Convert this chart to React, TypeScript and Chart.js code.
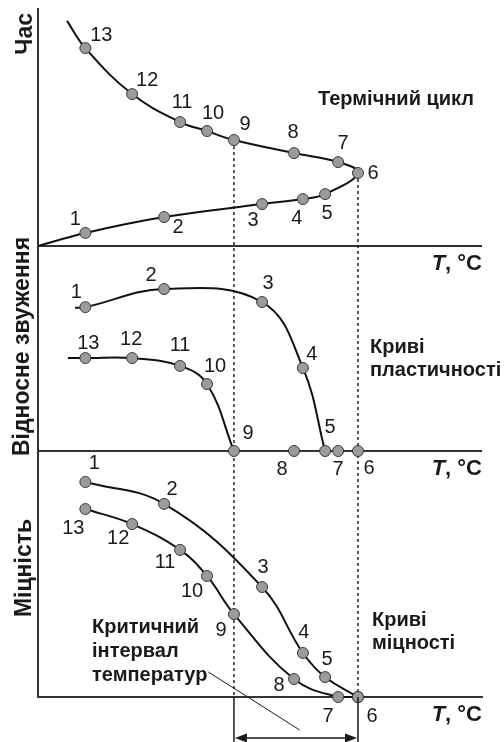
import React, { useEffect, useRef } from 'react';
import { Chart, registerables } from 'chart.js';

Chart.register(...registerables);

const FONT = '"Liberation Sans", Arial, Helvetica, sans-serif';
const INK = '#1a1a1a';
const AXIS = '#333333';

// ---- data ----
const pointNames = ['1', '2', '3', '4', '5', '6', '7', '8', '9', '10', '11', '12', '13'];
// temperature at numbered points of the thermal cycle, °C
const cycleTemps = [160, 426, 757, 895, 970, 1081, 1014, 865, 662, 571, 480, 318, 160];
// time at numbered points, s
const cycleTimes = [5.5, 12.2, 17.7, 19.8, 21.9, 30.8, 35.4, 39.2, 44.7, 48.5, 52.3, 64.1, 83.5];
const cycleStart = { T: 0, v: 0 };
const cycleEnd = { T: 98, v: 95 };
// relative reduction of area (ductility), %
const ductility = [42.1, 47.4, 43.6, 24.3, 0, 0, 0, 0, 0, 19.6, 24.9, 27.2, 27.2];
const ductHeatStart = { T: 125, v: 41.9 };
const ductCoolEnd = { T: 101, v: 27.2 };
// strength, relative units
const strength = [87.4, 78.5, 44.7, 17.9, 8.1, 0, 0, 7.3, 33.7, 49.2, 59.8, 70.3, 76.4];

const T_MAX = 1500;
const TIME_MAX = 100;
const DUCT_MAX = 60;
const STR_MAX = 100;

const axisTitles = ['Час', 'Відносне звуження', 'Міцність'];
const panelNotes = {
  cycle: ['Термічний цикл'],
  duct: ['Криві', 'пластичності'],
  str: ['Криві', 'міцності'],
  crit: ['Критичний', 'інтервал', 'температур'],
};

// ---- label placement (px offsets from the marker) ----
const timeLabelOffsets = [[-10, -13], [14, 10], [-9, 16], [-6, 19], [2, 19], [15, 0], [5, -19], [-1, -21], [11, -16], [6, -18], [2, -20], [15, -14], [16, -13]];
const ductLabelOffsets = [[-9, -15], [-13, -14], [6, -19], [9, -13], [5, -24], [11, 17], [0, 18], [-12, 18], [14, -18], [8, -18], [0, -20], [-1, -19], [3, -15]];
const strLabelOffsets = [[9, -19], [8, -14], [1, -20], [1, -20], [2, -18], [14, 19], [-10, 19], [-15, 6], [-13, 16], [-15, 16], [-15, 13], [-14, 14], [-12, 19]];

const R = 5.5;
const pts = (vals: number[], from: number, to: number) => {
  const out: { x: number; y: number }[] = [];
  for (let i = from; i <= to; i++) out.push({ x: cycleTemps[i], y: vals[i] });
  return out;
};

const lineStyle = {
  showLine: true,
  borderColor: '#111111',
  borderWidth: 2,
  tension: 0.4,
  pointBackgroundColor: '#9b9b9b',
  pointBorderColor: '#3a3a3a',
  pointBorderWidth: 1,
  clip: false as const,
};

const yScale = (max: number, stackWeight: number, weight: number, gridOn: boolean) => ({
  type: 'linear' as const,
  position: 'left' as const,
  stack: 'panels',
  stackWeight,
  weight,
  min: 0,
  max,
  ticks: { display: false },
  grid: { display: gridOn, drawTicks: false, color: AXIS, lineWidth: 2 },
  border: { display: true, color: AXIS, width: 2 },
  afterBuildTicks: (s: any) => {
    s.ticks = [{ value: s.min }];
  },
});

const annotations = {
  id: 'annotations',
  beforeDatasetsDraw(chart: any) {
    const ctx = chart.ctx;
    const { x, yTime } = chart.scales;
    const bottom = chart.chartArea.bottom;
    ctx.save();
    ctx.strokeStyle = '#222';
    ctx.lineWidth = 1.5;
    ctx.setLineDash([3, 3]);
    [8, 5].forEach((k) => {
      const xp = x.getPixelForValue(cycleTemps[k]);
      ctx.beginPath();
      ctx.moveTo(xp, yTime.getPixelForValue(cycleTimes[k]));
      ctx.lineTo(xp, bottom);
      ctx.stroke();
    });
    ctx.restore();
  },
  afterDatasetsDraw(chart: any) {
    const ctx = chart.ctx;
    const { x, yTime, yDuct, yStr } = chart.scales;
    const area = chart.chartArea;
    ctx.save();
    ctx.fillStyle = INK;
    ctx.strokeStyle = INK;

    // point numbers
    ctx.font = `20px ${FONT}`;
    ctx.textAlign = 'center';
    ctx.textBaseline = 'middle';
    const panels: [any, number[], number[][]][] = [
      [yTime, cycleTimes, timeLabelOffsets],
      [yDuct, ductility, ductLabelOffsets],
      [yStr, strength, strLabelOffsets],
    ];
    panels.forEach(([sc, vals, offs]) => {
      pointNames.forEach((name, k) => {
        const xp = x.getPixelForValue(cycleTemps[k]) + offs[k][0];
        const yp = sc.getPixelForValue(vals[k]) + offs[k][1];
        ctx.fillText(name, xp, yp);
      });
    });

    // axis captions "T, °C"
    [yTime, yDuct, yStr].forEach((sc) => {
      const yp = sc.bottom + 18;
      ctx.textAlign = 'left';
      ctx.font = `bold 22px ${FONT}`;
      const rest = ', °C';
      const wRest = ctx.measureText(rest).width;
      ctx.font = `italic bold 22px ${FONT}`;
      const wT = ctx.measureText('T').width;
      const x0 = area.right - wRest - wT;
      ctx.fillText('T', x0, yp);
      ctx.font = `bold 22px ${FONT}`;
      ctx.fillText(rest, x0 + wT, yp);
    });

    // panel notes
    ctx.font = `bold 20px ${FONT}`;
    ctx.textAlign = 'left';
    const note = (lines: string[], left: number, top: number, step: number) =>
      lines.forEach((l, i) => ctx.fillText(l, left, top + i * step));
    note(panelNotes.cycle, 318, 99, 23);
    note(panelNotes.duct, 370, 347, 23);
    note(panelNotes.str, 372, 620, 23);
    note(panelNotes.crit, 92, 627, 24);

    // y titles (rotated)
    ctx.font = `bold 23px ${FONT}`;
    ctx.textBaseline = 'alphabetic';
    const ytitle = (text: string, bx: number, cy: number, align: CanvasTextAlign) => {
      ctx.save();
      ctx.translate(bx, cy);
      ctx.rotate(-Math.PI / 2);
      ctx.textAlign = align;
      ctx.fillText(text, 0, 0);
      ctx.restore();
    };
    ytitle(axisTitles[0], 32, yTime.top + 4, 'right');
    ytitle(axisTitles[1], 29, (yDuct.top + yDuct.bottom) / 2 - 2, 'center');
    ytitle(axisTitles[2], 31, (yStr.top + yStr.bottom) / 2 - 6, 'center');

    // critical temperature interval
    const xa = x.getPixelForValue(cycleTemps[8]);
    const xb = x.getPixelForValue(cycleTemps[5]);
    const arrowY = area.bottom + 41;
    ctx.lineWidth = 1.5;
    ctx.setLineDash([]);
    ctx.beginPath();
    ctx.moveTo(xa, area.bottom);
    ctx.lineTo(xa, chart.height);
    ctx.moveTo(xb, area.bottom);
    ctx.lineTo(xb, chart.height);
    ctx.moveTo(xa + 10, arrowY);
    ctx.lineTo(xb - 10, arrowY);
    ctx.stroke();
    ctx.beginPath();
    ctx.moveTo(xa + 1, arrowY);
    ctx.lineTo(xa + 13, arrowY - 4.5);
    ctx.lineTo(xa + 13, arrowY + 4.5);
    ctx.closePath();
    ctx.moveTo(xb - 1, arrowY);
    ctx.lineTo(xb - 13, arrowY - 4.5);
    ctx.lineTo(xb - 13, arrowY + 4.5);
    ctx.closePath();
    ctx.fill();

    // leader from the caption to the arrow
    ctx.font = `bold 20px ${FONT}`;
    const lastW = ctx.measureText(panelNotes.crit[2]).width;
    ctx.lineWidth = 1;
    ctx.beginPath();
    ctx.moveTo(92 + lastW + 1, 627 + 2 * 24 - 3);
    ctx.lineTo(xa + (xb - xa) * 0.53, arrowY - 8);
    ctx.stroke();

    ctx.restore();
  },
};

export default function App() {
  const ref = useRef<HTMLCanvasElement>(null);
  useEffect(() => {
    const topLoop = [
      { x: cycleStart.T, y: cycleStart.v },
      ...pts(cycleTimes, 0, 12),
      { x: cycleEnd.T, y: cycleEnd.v },
    ];
    const ductHeat = [{ x: ductHeatStart.T, y: ductHeatStart.v }, ...pts(ductility, 0, 4)];
    const ductCool = [...pts(ductility, 8, 12), { x: ductCoolEnd.T, y: ductCoolEnd.v }];
    const ductNil = pts(ductility, 5, 7);
    const strHeat = pts(strength, 0, 5);
    const strCool = pts(strength, 5, 12);

    const chart = new Chart(ref.current as HTMLCanvasElement, {
      type: 'scatter',
      data: {
        datasets: [
          { ...lineStyle, data: topLoop, yAxisID: 'yTime', pointRadius: topLoop.map((_, i) => (i === 0 || i === topLoop.length - 1 ? 0 : R)) },
          { ...lineStyle, data: ductHeat, yAxisID: 'yDuct', pointRadius: ductHeat.map((_, i) => (i === 0 ? 0 : R)) },
          { ...lineStyle, data: ductCool, yAxisID: 'yDuct', pointRadius: ductCool.map((_, i) => (i === ductCool.length - 1 ? 0 : R)) },
          { ...lineStyle, showLine: false, data: ductNil, yAxisID: 'yDuct', pointRadius: R },
          { ...lineStyle, data: strHeat, yAxisID: 'yStr', pointRadius: R },
          { ...lineStyle, data: strCool, yAxisID: 'yStr', pointRadius: R },
        ] as any,
      },
      options: {
        responsive: false,
        maintainAspectRatio: false,
        devicePixelRatio: 1,
        animation: false,
        events: [],
        layout: { padding: { left: 38, right: 22, top: 9, bottom: 45 } },
        plugins: { legend: { display: false }, tooltip: { enabled: false } },
        scales: {
          x: {
            type: 'linear',
            position: 'bottom',
            min: 0,
            max: T_MAX,
            ticks: { display: false },
            grid: { display: false, drawTicks: false },
            border: { display: true, color: AXIS, width: 2 },
          },
          yTime: yScale(TIME_MAX, 237, 3, true),
          yDuct: yScale(DUCT_MAX, 205, 2, true),
          yStr: yScale(STR_MAX, 246, 1, false),
        } as any,
      },
      plugins: [annotations],
    });
    return () => chart.destroy();
  }, []);

  return (
    <div style={{ position: 'absolute', left: 0, top: 0, width: 504, height: 742, background: '#ffffff' }}>
      <canvas ref={ref} width={504} height={742} style={{ display: 'block', width: 504, height: 742 }} />
    </div>
  );
}
